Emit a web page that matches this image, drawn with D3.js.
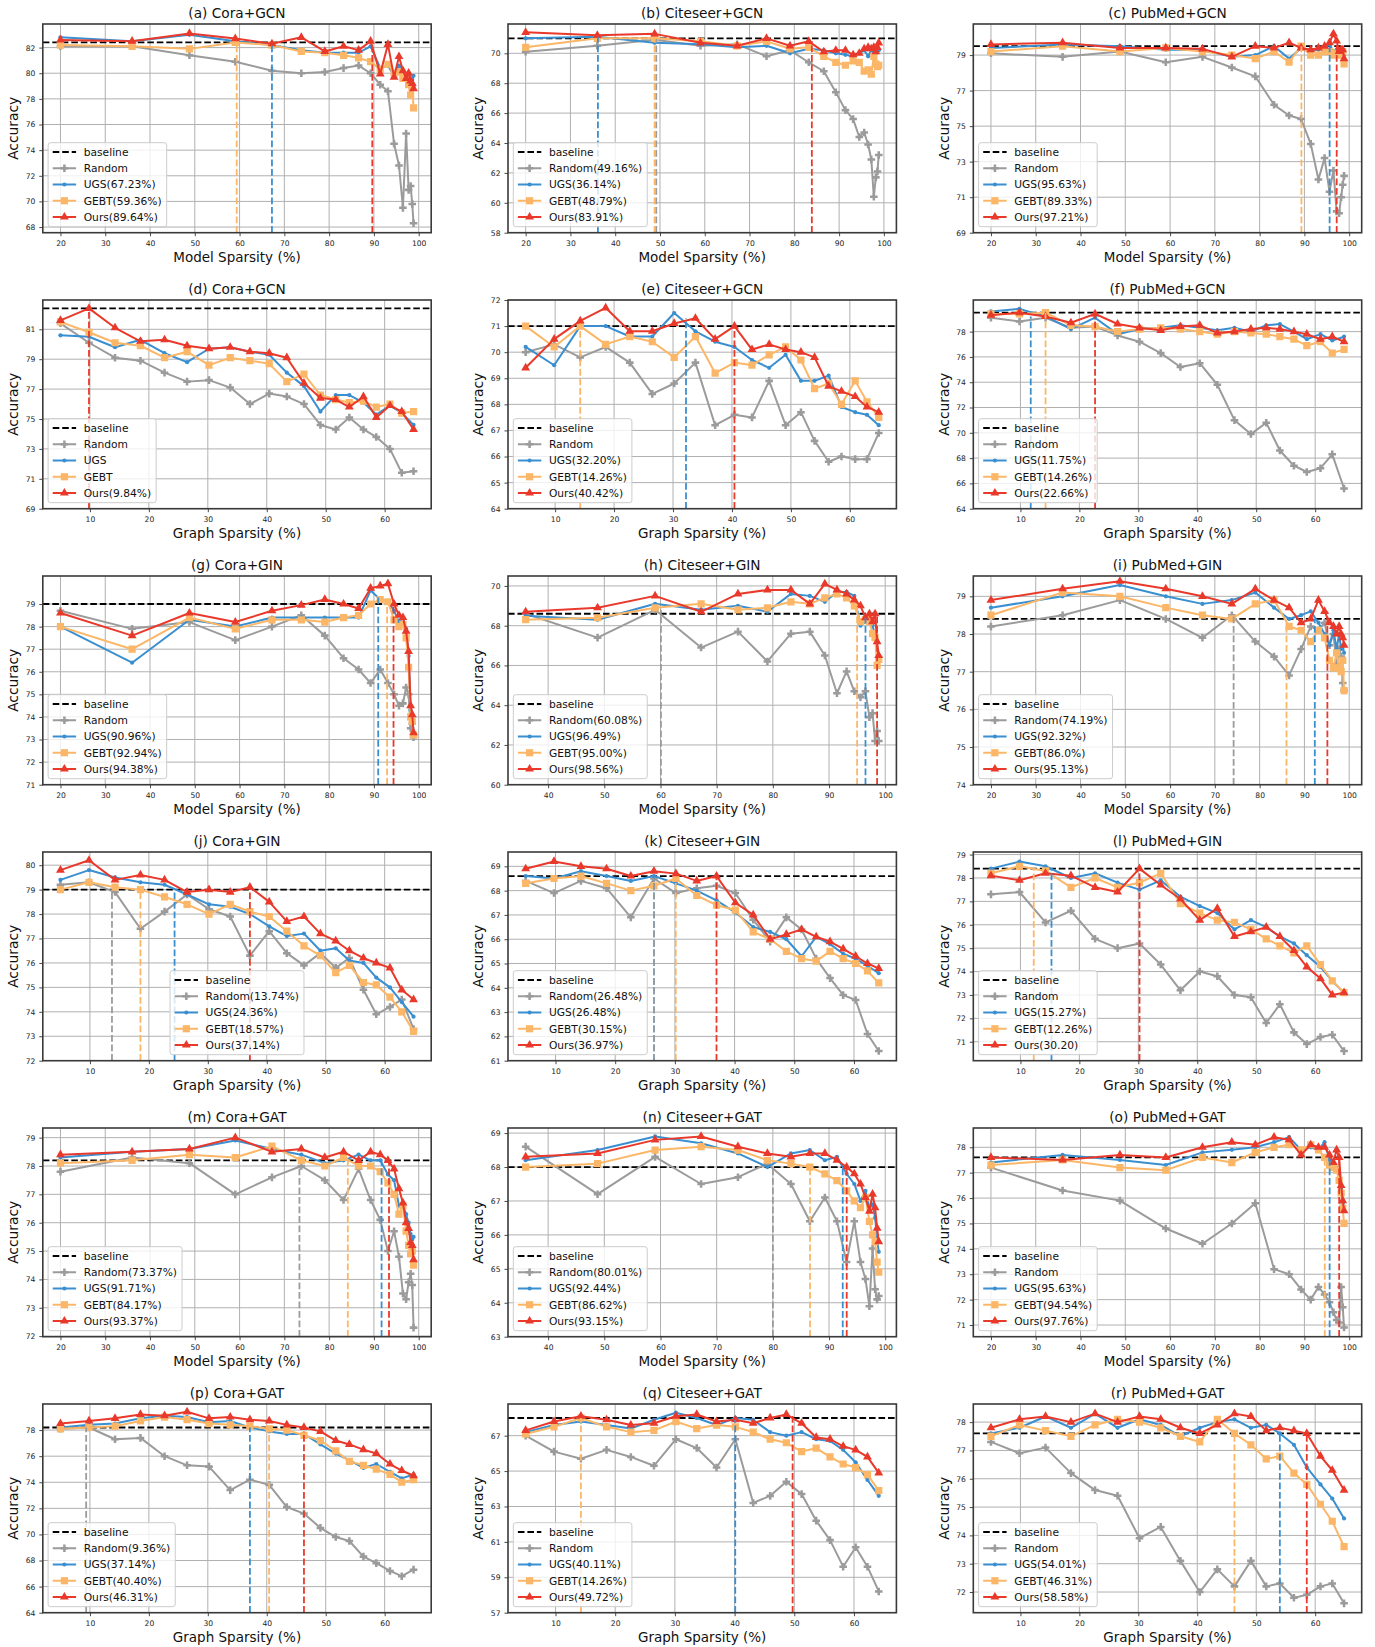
<!DOCTYPE html>
<html><head><meta charset="utf-8">
<script src="https://cdn.jsdelivr.net/npm/d3@7"></script>
<style>body{margin:0;background:#fff}svg{display:block}text{font-family:"DejaVu Sans",sans-serif}</style>
</head><body><svg id="chart" width="1375" height="1647"></svg>
<script>
// ---------------- x positions ----------------
const modelSparsity = [20, 36, 48.8, 59.04, 67.23, 73.79, 79.03, 83.22, 86.58, 89.26, 91.41, 93.13, 94.5, 95.6, 96.48, 97.19, 97.75, 98.2, 98.56, 98.85];
const modelSparsityFrom36 = [36, 48.8, 59.04, 67.23, 73.79, 79.03, 83.22, 86.58, 89.26, 91.41, 93.13, 94.5, 95.6, 96.48, 97.19, 97.75, 98.2, 98.56, 98.85];
const graphSparsity = [5, 9.84, 14.26, 18.57, 22.66, 26.48, 30.2, 33.8, 37.14, 40.42, 43.4, 46.31, 49.1, 51.7, 54.01, 56.4, 58.58, 60.9, 62.9, 64.9];
const graphSparsityCiteseer = [5, 9.75, 14.26, 18.55, 22.62, 26.49, 30.17, 33.66, 36.98, 40.13, 43.12, 45.96, 48.67, 51.23, 53.67, 55.99, 58.19, 60.28, 62.26, 64.15];
const modelTicks = [20, 30, 40, 50, 60, 70, 80, 90, 100];
const modelTicksFrom40 = [40, 50, 60, 70, 80, 90, 100];
const graphTicks = [10, 20, 30, 40, 50, 60];
const seriesNames = ["Random", "UGS", "GEBT", "Ours"];

// ---------------- (a) Cora+GCN ----------------
const aRandom = [82.1, 82.1, 81.4, 80.9, 80.2, 80.0, 80.1, 80.4, 80.6, 80.0, 79.1, 78.6, 74.5, 72.8, 69.5, 75.3, 70.9, 71.2, 69.8, 68.3];
const aUgs    = [82.8, 82.5, 83.0, 82.5, 82.2, 81.8, 81.6, 81.6, 81.6, 82.1, 80.4, 80.6, 79.8, 80.6, 80.2, 79.7, 80.0, 79.6, 79.5, 79.8];
const aGebt   = [82.2, 82.1, 81.9, 82.4, 82.2, 81.7, 81.6, 81.4, 81.2, 80.9, 80.3, 80.7, 80.0, 80.1, 79.6, 79.8, 79.1, 78.3, 78.9, 77.3];
const aOurs   = [82.6, 82.5, 83.1, 82.7, 82.3, 82.8, 81.7, 82.1, 81.8, 82.5, 79.95, 82.25, 79.7, 81.3, 80.2, 79.6, 80.0, 79.4, 79.2, 78.8];
const aYTicks = [68, 70, 72, 74, 76, 78, 80, 82];
const aLegend = ["Random", "UGS(67.23%)", "GEBT(59.36%)", "Ours(89.64%)"];
const aMarks = [[2, 59.36, 82.4], [1, 67.23, 82.2], [3, 89.64, 82.5]];

// ---------------- (b) Citeseer+GCN ----------------
const bRandom = [70.1, 70.5, 70.9, 70.5, 70.6, 69.8, 70.2, 69.4, 68.8, 67.4, 66.2, 65.6, 64.4, 64.7, 63.9, 62.9, 60.4, 61.7, 62.1, 63.2];
const bUgs    = [71.0, 71.1, 70.7, 70.6, 70.4, 70.5, 70.0, 70.3, 70.2, 70.0, 69.9, 69.8, 70.0, 70.2, 69.8, 70.2, 70.1, 70.0, 70.3, 70.2];
const bGebt   = [70.4, 71.0, 71.0, 70.8, 70.5, 70.8, 70.3, 70.4, 69.8, 69.4, 69.2, 69.5, 69.4, 68.8, 68.9, 68.6, 69.8, 69.3, 69.1, 69.2];
const bOurs   = [71.4, 71.2, 71.3, 70.7, 70.5, 71.0, 70.5, 70.8, 70.1, 70.2, 70.2, 69.9, 70.0, 70.3, 70.4, 70.3, 70.4, 70.1, 70.4, 70.7];
const bYTicks = [58, 60, 62, 64, 66, 68, 70];
const bLegend = ["Random(49.16%)", "UGS(36.14%)", "GEBT(48.79%)", "Ours(83.91%)"];
const bMarks = [[1, 36.14, 71.1], [0, 49.16, 70.95], [2, 48.79, 71.0], [3, 83.91, 70.8]];

// ---------------- (c) PubMed+GCN ----------------
const cRandom = [79.1, 78.9, 79.2, 78.6, 78.9, 78.3, 77.8, 76.2, 75.6, 75.4, 74.0, 72.0, 73.2, 71.3, 72.5, 70.2, 70.1, 71.0, 71.7, 72.2];
const cUgs    = [79.4, 79.6, 79.5, 79.3, 79.3, 78.9, 79.0, 79.5, 78.8, 79.4, 79.3, 79.3, 79.4, 79.6, 79.2, 79.3, 79.1, 79.2, 79.2, 79.0];
const cGebt   = [79.2, 79.5, 79.2, 79.4, 79.2, 79.0, 78.8, 79.2, 78.6, 79.5, 79.0, 79.0, 79.2, 79.2, 79.0, 79.1, 79.0, 79.2, 79.2, 78.5];
const cOurs   = [79.6, 79.7, 79.4, 79.4, 79.35, 78.9, 79.5, 79.4, 79.7, 79.4, 79.3, 79.4, 79.5, 79.7, 80.2, 79.8, 79.2, 79.3, 79.3, 78.8];
const cYTicks = [69, 71, 73, 75, 77, 79];
const cLegend = ["Random", "UGS(95.63%)", "GEBT(89.33%)", "Ours(97.21%)"];
const cMarks = [[2, 89.33, 79.5], [1, 95.63, 79.5], [3, 97.21, 79.8]];

// ---------------- (d) Cora+GCN (graph) ----------------
const dRandom = [81.4, 80.1, 79.1, 78.9, 78.1, 77.5, 77.6, 77.1, 76.0, 76.7, 76.5, 76.0, 74.6, 74.3, 75.1, 74.3, 73.8, 73.0, 71.4, 71.5];
const dUgs    = [80.6, 80.5, 79.8, 80.3, 79.4, 78.8, 79.7, 79.8, 79.5, 79.3, 78.1, 77.2, 75.5, 76.6, 76.6, 76.1, 75.3, 75.9, 75.4, 74.6];
const dGebt   = [81.5, 80.8, 80.1, 79.9, 79.1, 79.5, 78.6, 79.1, 78.9, 78.7, 77.5, 78.0, 76.6, 76.3, 76.1, 76.2, 75.8, 76.0, 75.4, 75.5];
const dOurs   = [81.6, 82.4, 81.1, 80.2, 80.3, 79.9, 79.7, 79.8, 79.5, 79.4, 79.1, 77.4, 76.4, 76.3, 75.8, 76.5, 75.1, 75.9, 75.5, 74.3];
const dYTicks = [69, 71, 73, 75, 77, 79, 81];
const dLegend = ["Random", "UGS", "GEBT", "Ours(9.84%)"];
const dMarks = [[3, 9.84, 82.4]];

// ---------------- (e) Citeseer+GCN (graph) ----------------
const eRandom = [70.0, 70.3, 69.8, 70.2, 69.6, 68.4, 68.8, 69.6, 67.2, 67.6, 67.5, 68.9, 67.2, 67.7, 66.6, 65.8, 66.0, 65.9, 65.9, 66.9];
const eUgs    = [70.2, 69.5, 71.0, 71.0, 70.6, 70.6, 71.5, 70.8, 70.4, 70.2, 69.7, 69.4, 69.9, 68.9, 68.9, 69.1, 67.9, 67.7, 67.6, 67.2];
const eGebt   = [71.0, 70.2, 71.0, 70.3, 70.6, 70.4, 69.8, 70.6, 69.2, 69.6, 69.5, 69.9, 70.2, 69.7, 68.6, 68.8, 68.0, 68.9, 68.1, 67.5];
const eOurs   = [69.4, 70.5, 71.2, 71.7, 70.8, 70.8, 71.1, 71.3, 70.5, 71.0, 70.1, 70.3, 70.1, 70.0, 69.8, 68.7, 68.5, 68.3, 67.9, 67.7];
const eYTicks = [64, 65, 66, 67, 68, 69, 70, 71, 72];
const eLegend = ["Random", "UGS(32.20%)", "GEBT(14.26%)", "Ours(40.42%)"];
const eMarks = [[2, 14.26, 71.0], [1, 32.20, 71.3], [3, 40.42, 71.0]];

// ---------------- (f) PubMed+GCN (graph) ----------------
const fRandom = [79.1, 78.8, 79.1, 78.3, 78.4, 77.7, 77.2, 76.3, 75.2, 75.5, 73.8, 71.0, 69.9, 70.8, 68.6, 67.4, 66.9, 67.2, 68.3, 65.6];
const fUgs    = [79.6, 79.8, 79.2, 78.2, 79.1, 77.8, 78.2, 78.3, 78.5, 78.3, 78.1, 78.3, 78.0, 78.5, 78.6, 78.0, 77.4, 77.8, 77.3, 77.6];
const fGebt   = [79.4, 79.4, 79.5, 78.5, 78.4, 78.0, 78.2, 78.3, 78.2, 78.0, 77.8, 78.0, 77.9, 77.8, 77.6, 77.4, 76.9, 77.2, 76.3, 76.6];
const fOurs   = [79.3, 79.5, 79.2, 78.7, 79.4, 78.6, 78.3, 78.1, 78.4, 78.5, 77.9, 78.0, 78.2, 78.3, 78.2, 78.0, 77.8, 77.4, 77.6, 77.2];
const fYTicks = [64, 66, 68, 70, 72, 74, 76, 78];
const fLegend = ["Random", "UGS(11.75%)", "GEBT(14.26%)", "Ours(22.66%)"];
const fMarks = [[1, 11.75, 79.2], [2, 14.26, 79.5], [3, 22.66, 79.4]];

// ---------------- (g) Cora+GIN ----------------
const gRandom = [78.7, 77.9, 78.2, 77.4, 78.0, 78.5, 77.6, 76.6, 76.1, 75.5, 76.1, 75.5, 75.0, 74.5, 74.6, 75.3, 75.0, 73.5, 73.7, 73.1];
const gUgs    = [78.0, 76.4, 78.3, 78.0, 78.4, 78.4, 78.4, 78.4, 78.4, 79.6, 79.2, 79.1, 78.7, 78.2, 78.4, 77.9, 76.7, 74.3, 73.9, 73.3];
const gGebt   = [78.0, 77.0, 78.4, 77.9, 78.3, 78.3, 78.2, 78.4, 78.5, 79.0, 79.2, 79.1, 78.3, 78.0, 78.1, 77.5, 76.2, 74.0, 73.8, 73.2];
const gOurs   = [78.6, 77.6, 78.6, 78.2, 78.7, 78.95, 79.2, 79.0, 78.8, 79.7, 79.8, 79.9, 79.0, 78.5, 78.4, 77.8, 76.9, 74.5, 74.1, 73.3];
const gYTicks = [71, 72, 73, 74, 75, 76, 77, 78, 79];
const gLegend = ["Random", "UGS(90.96%)", "GEBT(92.94%)", "Ours(94.38%)"];
const gMarks = [[1, 90.96, 79.4], [2, 92.94, 79.2], [3, 94.38, 79.0]];

// ---------------- (h) Citeseer+GIN ----------------
const hRandom = [68.6, 67.4, 68.8, 66.9, 67.7, 66.2, 67.6, 67.7, 66.5, 64.6, 65.7, 64.7, 64.4, 64.7, 63.4, 63.6, 62.2, 62.7, 62.2];
const hUgs    = [68.5, 68.3, 69.1, 68.8, 69.0, 68.7, 69.6, 69.5, 69.2, 69.7, 69.7, 69.5, 68.0, 68.2, 68.4, 68.0, 67.5, 66.8, 66.5];
const hGebt   = [68.3, 68.4, 68.9, 69.1, 68.8, 68.9, 69.2, 69.1, 69.4, 69.6, 69.4, 69.0, 68.2, 68.3, 68.2, 67.6, 67.4, 66.0, 66.3];
const hOurs   = [68.7, 68.9, 69.5, 68.7, 69.6, 69.8, 69.8, 69.1, 70.1, 69.8, 69.6, 69.3, 69.0, 68.4, 68.6, 68.2, 68.6, 67.2, 66.5];
const hYTicks = [60, 62, 64, 66, 68, 70];
const hLegend = ["Random(60.08%)", "UGS(96.49%)", "GEBT(95.00%)", "Ours(98.56%)"];
const hMarks = [[0, 60.08, 68.8], [2, 95.0, 69.0], [1, 96.49, 68.4], [3, 98.56, 68.6]];

// ---------------- (i) PubMed+GIN ----------------
const iRandom = [78.2, 78.5, 78.9, 78.4, 77.9, 78.5, 77.8, 77.4, 76.9, 77.6, 78.2, 78.1, 78.3, 77.7, 78.0, 77.2, 77.6, 77.4, 76.7, 76.5];
const iUgs    = [78.7, 79.0, 79.3, 79.0, 78.8, 78.9, 79.1, 78.7, 78.4, 78.5, 78.6, 78.3, 78.0, 77.7, 78.1, 77.6, 78.0, 77.6, 77.7, 77.5];
const iGebt   = [78.5, 79.1, 79.0, 78.7, 78.5, 78.4, 78.8, 78.9, 78.2, 78.1, 77.8, 78.1, 77.9, 77.3, 77.1, 77.5, 77.1, 77.0, 77.3, 76.5];
const iOurs   = [78.9, 79.2, 79.4, 79.2, 79.0, 78.8, 79.2, 78.9, 78.7, 78.3, 78.4, 78.9, 78.6, 78.3, 78.2, 78.0, 78.2, 78.0, 77.9, 77.7];
const iYTicks = [74, 75, 76, 77, 78, 79];
const iLegend = ["Random(74.19%)", "UGS(92.32%)", "GEBT(86.0%)", "Ours(95.13%)"];
const iMarks = [[0, 74.19, 78.5], [2, 86.0, 78.2], [1, 92.32, 78.4], [3, 95.13, 78.6]];

// ---------------- (j) Cora+GIN (graph) ----------------
const jRandom = [79.2, 79.3, 78.9, 77.4, 78.1, 78.8, 78.2, 77.9, 76.3, 77.3, 76.4, 75.9, 76.4, 75.8, 76.2, 74.9, 73.9, 74.2, 74.5, 73.3];
const jUgs    = [79.4, 79.8, 79.5, 79.3, 79.2, 78.8, 78.4, 78.3, 78.0, 77.5, 77.1, 77.2, 76.5, 76.6, 76.1, 76.0, 75.4, 75.0, 74.4, 73.8];
const jGebt   = [79.0, 79.3, 79.1, 79.0, 78.7, 78.4, 78.0, 78.4, 78.1, 77.9, 77.3, 76.7, 76.3, 75.6, 75.9, 75.2, 75.1, 74.6, 74.0, 73.2];
const jOurs   = [79.8, 80.2, 79.4, 79.6, 79.4, 78.9, 79.0, 78.9, 79.1, 78.5, 77.7, 77.9, 77.2, 76.9, 76.5, 76.2, 76.0, 75.8, 74.9, 74.5];
const jYTicks = [72, 73, 74, 75, 76, 77, 78, 79, 80];
const jLegend = ["Random(13.74%)", "UGS(24.36%)", "GEBT(18.57%)", "Ours(37.14%)"];
const jMarks = [[0, 13.74, 79.0], [2, 18.57, 79.0], [1, 24.36, 79.0], [3, 37.14, 79.1]];

// ---------------- (k) Citeseer+GIN (graph) ----------------
const kRandom = [68.4, 67.9, 68.4, 68.1, 66.9, 68.5, 67.9, 68.1, 68.2, 67.9, 66.8, 65.9, 66.9, 66.4, 65.2, 64.4, 63.7, 63.5, 62.1, 61.4];
const kUgs    = [68.6, 68.5, 68.8, 68.6, 68.4, 68.6, 68.3, 68.0, 67.6, 67.1, 66.5, 66.3, 66.0, 65.3, 66.1, 65.8, 65.4, 65.2, 64.9, 64.6];
const kGebt   = [68.3, 68.5, 68.6, 68.3, 68.0, 68.2, 68.5, 67.8, 67.4, 67.2, 66.3, 66.0, 65.5, 65.2, 65.1, 65.5, 65.2, 65.0, 64.7, 64.2];
const kOurs   = [68.9, 69.2, 69.0, 68.9, 68.6, 68.8, 68.7, 68.4, 68.6, 67.5, 67.0, 66.0, 66.2, 66.4, 66.1, 65.9, 65.6, 65.3, 65.0, 64.8];
const kYTicks = [61, 62, 63, 64, 65, 66, 67, 68, 69];
const kLegend = ["Random(26.48%)", "UGS(26.48%)", "GEBT(30.15%)", "Ours(36.97%)"];
const kMarks = [[1, 26.48, 68.5], [0, 26.48, 68.5], [2, 30.15, 68.5], [3, 36.97, 68.6]];

// ---------------- (l) PubMed+GIN (graph) ----------------
const lRandom = [77.3, 77.4, 76.1, 76.6, 75.4, 75.0, 75.2, 74.3, 73.2, 74.0, 73.8, 73.0, 72.9, 71.8, 72.6, 71.4, 70.9, 71.2, 71.3, 70.6];
const lUgs    = [78.4, 78.7, 78.5, 78.0, 78.2, 77.8, 77.5, 77.9, 77.2, 76.8, 76.5, 75.8, 76.2, 75.9, 75.5, 75.2, 74.7, 74.2, 73.6, 73.1];
const lGebt   = [78.2, 78.5, 78.3, 77.6, 78.0, 77.6, 77.8, 78.2, 76.9, 76.5, 76.2, 76.1, 75.8, 75.4, 75.1, 74.8, 75.1, 74.3, 73.6, 73.1];
const lOurs   = [78.1, 77.9, 78.2, 78.1, 77.6, 77.4, 78.4, 77.7, 77.1, 76.2, 76.7, 75.5, 75.7, 75.9, 75.5, 74.9, 74.2, 73.7, 73.0, 73.1];
const lYTicks = [71, 72, 73, 74, 75, 76, 77, 78, 79];
const lLegend = ["Random", "UGS(15.27%)", "GEBT(12.26%)", "Ours(30.20)"];
const lMarks = [[2, 12.26, 78.4], [1, 15.27, 78.4], [3, 30.20, 78.4]];

// ---------------- (m) Cora+GAT ----------------
const mRandom = [77.8, 78.3, 78.1, 77.0, 77.6, 78.0, 77.5, 76.8, 77.9, 76.8, 76.1, 75.0, 75.7, 74.8, 73.5, 73.3, 73.9, 74.2, 73.8, 72.3];
const mUgs    = [78.3, 78.5, 78.6, 78.9, 78.6, 78.4, 78.1, 78.2, 78.4, 78.2, 78.2, 77.7, 77.5, 76.6, 76.6, 76.3, 76.0, 75.6, 75.4, 75.5];
const mGebt   = [78.1, 78.2, 78.4, 78.3, 78.7, 78.2, 78.0, 78.3, 78.0, 78.0, 77.8, 77.4, 77.0, 76.3, 76.6, 75.7, 75.2, 74.9, 75.0, 74.5];
const mOurs   = [78.4, 78.5, 78.6, 79.0, 78.5, 78.6, 78.3, 78.5, 78.2, 78.5, 78.4, 78.2, 77.9, 77.2, 76.7, 76.0, 75.8, 75.3, 75.2, 74.7];
const mYTicks = [72, 73, 74, 75, 76, 77, 78, 79];
const mLegend = ["Random(73.37%)", "UGS(91.71%)", "GEBT(84.17%)", "Ours(93.37%)"];
const mMarks = [[0, 73.37, 78.0], [2, 84.17, 78.3], [1, 91.71, 78.3], [3, 93.37, 78.2]];

// ---------------- (n) Citeseer+GAT ----------------
const nRandom = [68.6, 67.2, 68.3, 67.5, 67.7, 68.1, 67.5, 66.4, 67.1, 66.4, 65.2, 66.4, 65.2, 64.7, 63.9, 65.6, 64.4, 64.1, 64.2];
const nUgs    = [68.2, 68.5, 68.9, 68.7, 68.4, 68.0, 68.4, 68.5, 68.2, 68.3, 67.8, 67.5, 67.0, 67.3, 66.8, 66.9, 66.5, 65.9, 65.5];
const nGebt   = [68.0, 68.1, 68.5, 68.6, 68.5, 68.2, 68.1, 68.0, 67.8, 67.6, 67.3, 67.0, 66.8, 67.1, 66.4, 66.0, 65.8, 65.2, 64.9];
const nOurs   = [68.3, 68.4, 68.8, 68.9, 68.6, 68.4, 68.3, 68.4, 68.4, 68.2, 68.0, 67.8, 67.5, 67.1, 66.7, 67.2, 66.8, 66.2, 65.8];
const nYTicks = [63, 64, 65, 66, 67, 68, 69];
const nLegend = ["Random(80.01%)", "UGS(92.44%)", "GEBT(86.62%)", "Ours(93.15%)"];
const nMarks = [[0, 80.01, 68.0], [2, 86.62, 68.0], [1, 92.44, 68.0], [3, 93.15, 68.0]];

// ---------------- (o) PubMed+GAT ----------------
const oRandom = [77.2, 76.3, 75.9, 74.8, 74.2, 75.0, 75.8, 73.2, 73.0, 72.4, 72.0, 72.5, 72.2, 71.9, 71.5, 71.2, 71.1, 72.5, 71.7, 70.9];
const oUgs    = [77.4, 77.7, 77.5, 77.3, 77.8, 77.9, 78.0, 78.2, 78.4, 77.9, 78.0, 77.9, 78.2, 77.5, 77.3, 77.2, 77.0, 76.4, 75.8, 75.5];
const oGebt   = [77.3, 77.5, 77.2, 77.1, 77.6, 77.4, 77.8, 78.0, 78.1, 77.9, 78.1, 77.9, 77.6, 77.3, 77.2, 77.1, 76.7, 76.2, 75.6, 75.0];
const oOurs   = [77.6, 77.5, 77.7, 77.6, 78.0, 78.2, 78.1, 78.4, 78.3, 77.7, 78.1, 78.0, 78.0, 77.7, 77.4, 77.9, 77.6, 76.5, 75.9, 75.5];
const oYTicks = [71, 72, 73, 74, 75, 76, 77, 78];
const oLegend = ["Random", "UGS(95.63%)", "GEBT(94.54%)", "Ours(97.76%)"];
const oMarks = [[2, 94.54, 77.6], [1, 95.63, 77.5], [3, 97.76, 77.6]];

// ---------------- (p) Cora+GAT (graph) ----------------
const pRandom = [78.1, 78.2, 77.3, 77.4, 76.0, 75.3, 75.2, 73.4, 74.2, 73.8, 72.1, 71.6, 70.5, 69.8, 69.5, 68.3, 67.8, 67.2, 66.8, 67.3];
const pUgs    = [78.2, 78.4, 78.5, 78.9, 79.1, 79.0, 78.6, 78.7, 78.2, 77.9, 77.7, 77.7, 76.9, 76.2, 75.7, 75.1, 75.4, 74.8, 74.3, 74.6];
const pGebt   = [78.1, 78.2, 78.3, 78.7, 79.0, 78.8, 78.5, 78.4, 78.3, 78.1, 78.0, 77.6, 77.2, 76.4, 75.6, 75.3, 75.0, 74.6, 74.0, 74.2];
const pOurs   = [78.5, 78.7, 78.9, 79.2, 79.1, 79.4, 78.9, 79.0, 78.8, 78.7, 78.4, 78.2, 77.9, 77.2, 76.9, 76.5, 76.2, 75.4, 74.9, 74.5];
const pYTicks = [64, 66, 68, 70, 72, 74, 76, 78];
const pLegend = ["Random(9.36%)", "UGS(37.14%)", "GEBT(40.40%)", "Ours(46.31%)"];
const pMarks = [[0, 9.36, 78.2], [1, 37.14, 78.2], [2, 40.40, 78.2], [3, 46.31, 77.9]];

// ---------------- (q) Citeseer+GAT (graph) ----------------
const qRandom = [67.0, 66.1, 65.7, 66.2, 65.8, 65.3, 66.8, 66.3, 65.2, 66.8, 63.2, 63.6, 64.4, 63.7, 62.2, 61.1, 59.6, 60.7, 59.6, 58.2];
const qUgs    = [67.2, 67.6, 67.8, 67.6, 67.4, 67.9, 68.3, 68.0, 67.6, 68.0, 67.9, 67.2, 67.0, 67.2, 66.8, 66.7, 66.2, 65.5, 64.5, 63.6];
const qGebt   = [67.1, 67.5, 68.0, 67.5, 67.2, 67.3, 67.8, 67.4, 67.6, 67.5, 67.2, 66.8, 66.6, 66.1, 66.3, 65.8, 65.4, 65.2, 64.8, 63.9];
const qOurs   = [67.3, 67.8, 68.1, 67.9, 67.6, 67.7, 68.1, 68.2, 67.8, 67.9, 67.7, 68.0, 68.2, 67.7, 66.9, 66.8, 66.4, 66.2, 65.8, 64.9];
const qYTicks = [57, 59, 61, 63, 65, 67];
const qLegend = ["Random", "UGS(40.11%)", "GEBT(14.26%)", "Ours(49.72%)"];
const qMarks = [[2, 14.26, 68.0], [1, 40.11, 67.9], [3, 49.72, 68.2]];

// ---------------- (r) PubMed+GAT (graph) ----------------
const rRandom = [77.3, 76.9, 77.1, 76.2, 75.6, 75.4, 73.9, 74.3, 73.1, 72.0, 72.8, 72.2, 73.1, 72.2, 72.3, 71.8, 71.9, 72.2, 72.3, 71.6];
const rUgs    = [77.6, 77.8, 78.2, 77.8, 78.3, 77.8, 78.1, 77.9, 77.5, 77.8, 78.0, 78.1, 77.8, 77.9, 77.6, 77.2, 76.4, 75.8, 75.3, 74.6];
const rGebt   = [77.5, 77.9, 77.7, 77.5, 77.9, 78.1, 78.0, 77.8, 77.5, 77.3, 78.1, 77.6, 77.2, 76.7, 76.8, 76.2, 75.8, 75.1, 74.5, 73.6];
const rOurs   = [77.8, 78.1, 78.2, 78.0, 78.3, 78.0, 78.2, 78.1, 77.8, 77.6, 77.9, 78.3, 78.2, 77.7, 77.8, 77.7, 77.6, 76.8, 76.3, 75.6];
const rYTicks = [72, 73, 74, 75, 76, 77, 78];
const rLegend = ["Random", "UGS(54.01%)", "GEBT(46.31%)", "Ours(58.58%)"];
const rMarks = [[2, 46.31, 77.6], [1, 54.01, 77.6], [3, 58.58, 77.6]];

const titles = ["(a) Cora+GCN","(b) Citeseer+GCN","(c) PubMed+GCN","(d) Cora+GCN","(e) Citeseer+GCN","(f) PubMed+GCN",
  "(g) Cora+GIN","(h) Citeseer+GIN","(i) PubMed+GIN","(j) Cora+GIN","(k) Citeseer+GIN","(l) PubMed+GIN",
  "(m) Cora+GAT","(n) Citeseer+GAT","(o) PubMed+GAT","(p) Cora+GAT","(q) Citeseer+GAT","(r) PubMed+GAT"];
const baselines = [82.4, 71.0, 79.5, 82.4, 71.0, 79.5, 79.0, 68.6, 78.4, 79.0, 68.6, 78.4, 78.2, 68.0, 77.6, 78.2, 68.0, 77.6];
const yLimits = [[67.56, 83.84], [58, 71.96], [69, 80.75], [69, 82.96], [64, 72], [64, 80.5],
  [71, 80.24], [60, 70.5], [74, 79.54], [72, 80.54], [61, 69.59], [70.19, 79.11],
  [71.98, 79.34], [63, 69.15], [70.54, 78.76], [64, 80.0], [57, 68.79], [71.27, 78.64]];

// ---------------- table built from the arrays ----------------
const MODEL = "Model Sparsity (%)", GRAPH = "Graph Sparsity (%)";
const panels = [
  [modelSparsity, modelTicks, MODEL, [aRandom, aUgs, aGebt, aOurs], aYTicks, aLegend, aMarks],
  [modelSparsity, modelTicks, MODEL, [bRandom, bUgs, bGebt, bOurs], bYTicks, bLegend, bMarks],
  [modelSparsity, modelTicks, MODEL, [cRandom, cUgs, cGebt, cOurs], cYTicks, cLegend, cMarks],
  [graphSparsity, graphTicks, GRAPH, [dRandom, dUgs, dGebt, dOurs], dYTicks, dLegend, dMarks],
  [graphSparsity, graphTicks, GRAPH, [eRandom, eUgs, eGebt, eOurs], eYTicks, eLegend, eMarks],
  [graphSparsity, graphTicks, GRAPH, [fRandom, fUgs, fGebt, fOurs], fYTicks, fLegend, fMarks],
  [modelSparsity, modelTicks, MODEL, [gRandom, gUgs, gGebt, gOurs], gYTicks, gLegend, gMarks],
  [modelSparsityFrom36, modelTicksFrom40, MODEL, [hRandom, hUgs, hGebt, hOurs], hYTicks, hLegend, hMarks],
  [modelSparsity, modelTicks, MODEL, [iRandom, iUgs, iGebt, iOurs], iYTicks, iLegend, iMarks],
  [graphSparsity, graphTicks, GRAPH, [jRandom, jUgs, jGebt, jOurs], jYTicks, jLegend, jMarks],
  [graphSparsityCiteseer, graphTicks, GRAPH, [kRandom, kUgs, kGebt, kOurs], kYTicks, kLegend, kMarks],
  [graphSparsity, graphTicks, GRAPH, [lRandom, lUgs, lGebt, lOurs], lYTicks, lLegend, lMarks],
  [modelSparsity, modelTicks, MODEL, [mRandom, mUgs, mGebt, mOurs], mYTicks, mLegend, mMarks],
  [modelSparsityFrom36, modelTicksFrom40, MODEL, [nRandom, nUgs, nGebt, nOurs], nYTicks, nLegend, nMarks],
  [modelSparsity, modelTicks, MODEL, [oRandom, oUgs, oGebt, oOurs], oYTicks, oLegend, oMarks],
  [graphSparsity, graphTicks, GRAPH, [pRandom, pUgs, pGebt, pOurs], pYTicks, pLegend, pMarks],
  [graphSparsityCiteseer, graphTicks, GRAPH, [qRandom, qUgs, qGebt, qOurs], qYTicks, qLegend, qMarks],
  [graphSparsity, graphTicks, GRAPH, [rRandom, rUgs, rGebt, rOurs], rYTicks, rLegend, rMarks]
].map((p, i) => ({title: titles[i], xs: p[0], xTicks: p[1], xLabel: p[2], series: p[3], yTicks: p[4],
  legend: p[5], marks: p[6], baseline: baselines[i], yDomain: yLimits[i], center: i === 9}));

// ---------------- styles / layout ----------------
const colors = ["#9b9b9b", "#3a8fd0", "#fbb767", "#e9392b"];
const symbols = [d3.symbol(d3.symbolCross, 32), d3.symbol(d3.symbolCircle, 14), d3.symbol(d3.symbolSquare, 52), d3.symbol(d3.symbolTriangle, 34)];
const colLeft = [42.8, 508, 973.3], W = 388.4, H = 208.7;
const FONT = "DejaVu Sans";

const svg = d3.select("#chart");
svg.append("rect").attr("width", 1375).attr("height", 1647).attr("fill", "#fff");

panels.forEach((p, idx) => {
  const col = idx % 3, row = Math.floor(idx / 3);
  const left = colLeft[col], top = 24 + 276 * row;
  const g = svg.append("g").attr("transform", `translate(${left},${top})`);
  const [xmin, xmax] = d3.extent(p.xs);
  const pad = (xmax - xmin) * 0.05;
  const x = d3.scaleLinear().domain([xmin - pad, xmax + pad]).range([0, W]);
  const y = d3.scaleLinear().domain(p.yDomain).range([H, 0]);

  const clipId = "clip" + idx;
  g.append("clipPath").attr("id", clipId).append("rect").attr("width", W).attr("height", H);

  // grid
  const grid = g.append("g").attr("stroke", "#b0b0b0").attr("stroke-width", 1);
  grid.selectAll("line.gx").data(p.xTicks.filter(t => x(t) >= 0 && x(t) <= W)).join("line")
    .attr("x1", d => x(d)).attr("x2", d => x(d)).attr("y1", 0).attr("y2", H);
  grid.selectAll("line.gy").data(p.yTicks.filter(t => y(t) >= 0 && y(t) <= H)).join("line")
    .attr("x1", 0).attr("x2", W).attr("y1", d => y(d)).attr("y2", d => y(d));

  const plot = g.append("g").attr("clip-path", `url(#${clipId})`);
  // baseline
  plot.append("line").attr("x1", 0).attr("x2", W).attr("y1", y(p.baseline)).attr("y2", y(p.baseline))
    .attr("stroke", "#000").attr("stroke-width", 1.8).attr("stroke-dasharray", "6.6,2.9");

  // series
  const line = d3.line().x(d => x(d.x)).y(d => y(d.y));
  p.series.forEach((vals, si) => {
    const pts = vals.map((v, i) => ({x: p.xs[i], y: v}));
    plot.append("path").datum(pts).attr("d", line).attr("fill", "none")
      .attr("stroke", colors[si]).attr("stroke-width", 2).attr("stroke-linejoin", "round");
    plot.append("g").selectAll("path").data(pts).join("path")
      .attr("d", symbols[si]).attr("fill", colors[si])
      .attr("transform", d => `translate(${x(d.x)},${y(d.y)})`);
  });

  // vertical threshold lines
  plot.selectAll("line.mark").data(p.marks).join("line")
    .attr("x1", d => x(d[1])).attr("x2", d => x(d[1]))
    .attr("y1", H).attr("y2", d => y(d[2]))
    .attr("stroke", d => colors[d[0]]).attr("stroke-width", 1.8).attr("stroke-dasharray", "6.6,2.9");

  // axes
  const xAxis = g.append("g").attr("transform", `translate(0,${H})`)
    .call(d3.axisBottom(x).tickValues(p.xTicks).tickSize(3.5).tickPadding(4).tickFormat(d3.format("d")));
  const yAxis = g.append("g")
    .call(d3.axisLeft(y).tickValues(p.yTicks).tickSize(3.5).tickPadding(4).tickFormat(d3.format("d")));
  [xAxis, yAxis].forEach(a => {
    a.select(".domain").remove();
    a.attr("font-family", FONT).attr("font-size", 7.6);
    a.selectAll("line").attr("stroke", "#333").attr("stroke-width", 0.9);
    a.selectAll("text").attr("fill", "#222");
  });

  // spines
  g.append("rect").attr("width", W).attr("height", H).attr("fill", "none")
    .attr("stroke", "#3a3a3a").attr("stroke-width", 1.6);

  // title and labels
  g.append("text").attr("x", W / 2).attr("y", -6).attr("text-anchor", "middle")
    .attr("font-size", 13.7).attr("fill", "#111").text(p.title);
  g.append("text").attr("x", W / 2).attr("y", H + 29.4).attr("text-anchor", "middle")
    .attr("font-size", 13.5).attr("fill", "#111").text(p.xLabel);
  g.append("text").attr("transform", `translate(-24.8,${H / 2}) rotate(-90)`).attr("text-anchor", "middle")
    .attr("font-size", 13.8).attr("fill", "#111").text("Accuracy");

  // legend
  const lg = g.append("g");
  const box = lg.append("rect").attr("fill", "#fff").attr("fill-opacity", 0.8)
    .attr("stroke", "#cccccc").attr("stroke-width", 1).attr("rx", 2.5);
  const labels = ["baseline"].concat(p.legend);
  const items = lg.selectAll("g.item").data(labels).join("g")
    .attr("transform", (d, i) => `translate(0,${9.3 + i * 16.25})`);
  items.each(function(d, i) {
    const it = d3.select(this);
    if (i === 0) {
      it.append("line").attr("x1", 4.6).attr("x2", 28).attr("stroke", "#000")
        .attr("stroke-width", 1.8).attr("stroke-dasharray", "6.6,2.9");
    } else {
      const si = i - 1;
      it.append("line").attr("x1", 4.6).attr("x2", 28).attr("stroke", colors[si]).attr("stroke-width", 2);
      it.append("path").attr("d", symbols[si]).attr("fill", colors[si]).attr("transform", "translate(16.3,0)");
    }
    it.append("text").attr("x", 35.6).attr("y", 3.9).attr("font-size", 10.7).attr("fill", "#111").text(d);
  });
  let maxW = 0;
  items.selectAll("text").each(function() { maxW = Math.max(maxW, this.getComputedTextLength()); });
  const bw = 35.6 + maxW + 5, bh = 84;
  const bx = p.center ? (W - bw) / 2 : 5.3;
  const by = H - 6 - bh;
  box.attr("x", 0).attr("y", 0).attr("width", bw).attr("height", bh);
  lg.attr("transform", `translate(${bx},${by})`);
});
</script></body></html>
